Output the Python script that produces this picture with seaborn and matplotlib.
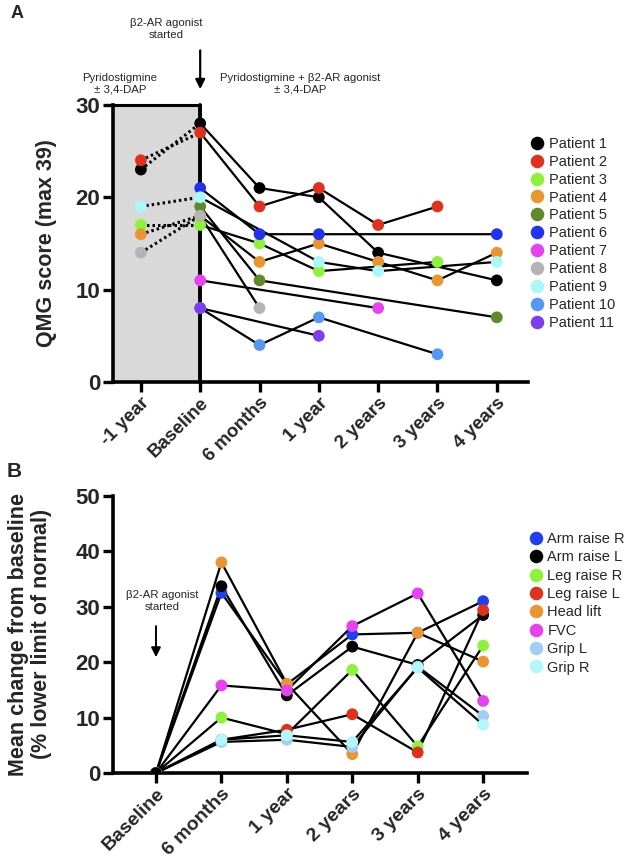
import numpy as np
import pandas as pd
import matplotlib
matplotlib.use("Agg")
import matplotlib.pyplot as plt
import seaborn as sns

nan = np.nan

# ---------------- Panel A data ----------------
A_times = ['-1 year', 'Baseline', '6 months', '1 year', '2 years', '3 years', '4 years']
patient_1 = [23, 28, 21, 20, 14, nan, 11]
patient_2 = [24, 27, 19, 21, 17, 19, nan]
patient_3 = [17, 17, 15, 12, nan, 13, nan]
patient_4 = [16, 18, 13, 15, 13, 11, 14]
patient_5 = [nan, 19, 11, nan, nan, nan, 7]
patient_6 = [nan, 21, 16, 16, nan, nan, 16]
patient_7 = [nan, 11, nan, nan, 8, nan, nan]
patient_8 = [14, 18, 8, nan, nan, nan, nan]
patient_9 = [19, 20, nan, 13, 12, nan, 13]
patient_10 = [nan, 8, 4, 7, nan, 3, nan]
patient_11 = [nan, 8, nan, 5, nan, nan, nan]
A_names = ['Patient %d' % i for i in range(1, 12)]
A_series = [patient_1, patient_2, patient_3, patient_4, patient_5, patient_6,
            patient_7, patient_8, patient_9, patient_10, patient_11]
A_colors = ['#000000', '#e0301e', '#8ef23a', '#eb9530', '#5f8a2a', '#2233ee',
            '#e642f0', '#b4b4b4', '#aaf8fa', '#5597f5', '#7b3ff0']

# ---------------- Panel B data ----------------
B_times = ['Baseline', '6 months', '1 year', '2 years', '3 years', '4 years']
arm_raise_r = [0, 32.5, 16.0, 25.0, 25.3, 31.0]
arm_raise_l = [0, 33.7, 14.0, 22.8, 19.5, 28.5]
leg_raise_r = [0, 10.0, 7.0, 18.6, 4.8, 23.0]
leg_raise_l = [0, 6.0, 7.8, 10.6, 3.7, 29.4]
head_lift = [0, 38.0, 16.1, 3.4, 25.3, 20.1]
fvc = [0, 15.8, 14.9, 26.5, 32.4, 13.0]
grip_l = [0, 5.6, 6.0, 4.7, 19.2, 10.3]
grip_r = [0, 6.0, 6.8, 5.6, 19.0, 8.7]
B_names = ['Arm raise R', 'Arm raise L', 'Leg raise R', 'Leg raise L',
           'Head lift', 'FVC', 'Grip L', 'Grip R']
B_series = [arm_raise_r, arm_raise_l, leg_raise_r, leg_raise_l,
            head_lift, fvc, grip_l, grip_r]
B_colors = ['#2040f0', '#000000', '#8ef23a', '#e0301e', '#eb9530', '#e642f0',
            '#a3cdf5', '#b2f8fb']

sns.set_theme(style='ticks')
plt.rcParams['font.family'] = ['Liberation Sans', 'DejaVu Sans']
ann_font = ['Liberation Sans', 'DejaVu Sans']

# long data frames
rows = []
for name, vals in zip(A_names, A_series):
    for t, v in enumerate(vals):
        if not np.isnan(v):
            rows.append((name, t, v))
dfA = pd.DataFrame(rows, columns=['patient', 't', 'score'])
has_pre = dfA[dfA.t == 0].patient.unique()
solidA = dfA[dfA.t >= 1]
dottedA = dfA[(dfA.t <= 1) & dfA.patient.isin(has_pre)]

rows = []
for name, vals in zip(B_names, B_series):
    for t, v in enumerate(vals):
        rows.append((name, t, v))
dfB = pd.DataFrame(rows, columns=['measure', 't', 'change'])
# put Arm raise L baseline point on top
order = np.argsort([(1 if (m == 'Arm raise L' and t == 0) else 0)
                    for m, t in zip(dfB.measure, dfB.t)], kind='stable')
dfB_pts = dfB.iloc[order]

fig = plt.figure(figsize=(6.33, 8.66), dpi=100)
axA = fig.add_axes([0.1785, 0.5589, 0.656, 0.3200])
axB = fig.add_axes([0.1785, 0.1074, 0.654, 0.3200])

# ---------- Panel A ----------
axA.axvspan(-0.47, 1, color='#d9d9d9', zorder=0, lw=0)
axA.plot([-0.47, 1], [30, 30], color='black', lw=2.2, clip_on=False, zorder=1)
axA.plot([1, 1], [0, 30], color='black', lw=2.8, clip_on=False, zorder=1)

sns.lineplot(data=solidA, x='t', y='score', units='patient', estimator=None,
             color='black', lw=1.6, ax=axA, legend=False, zorder=2)
sns.lineplot(data=dottedA, x='t', y='score', units='patient', estimator=None,
             color='black', lw=2.2, ax=axA, legend=False, zorder=2,
             linestyle=(0, (0.8, 1.0)))
sns.scatterplot(data=dfA, x='t', y='score', hue='patient', hue_order=A_names,
                palette=A_colors, s=72, edgecolor='none', linewidth=0,
                ax=axA, zorder=3, legend=True)

axA.set_xlim(-0.47, 6.53)
axA.set_ylim(0, 30)
axA.set_yticks([0, 10, 20, 30])
axA.set_xticks(range(len(A_times)))
axA.set_xticklabels(A_times, rotation=45, ha='right', rotation_mode='anchor',
                    fontweight='bold', fontsize=13.5)
axA.set_xlabel('')
axA.set_ylabel('QMG score (max 39)', fontsize=15.5, fontweight='bold')
axA.yaxis.set_label_coords(-0.135, 0.5)

axA.legend(loc='upper left', bbox_to_anchor=(1.0, 0.885), frameon=False,
           fontsize=10.5, handletextpad=0.2, labelspacing=0.27,
           borderaxespad=0, borderpad=0, handlelength=1.2, markerscale=1.15)

axA.annotate('', xy=(1, 31.4), xytext=(1, 36.2),
             arrowprops=dict(arrowstyle='-|>', color='black', lw=1.6,
                             mutation_scale=14),
             annotation_clip=False)
axA.text(0.42, 38.2, 'β2-AR agonist\nstarted', ha='center', va='center',
         fontsize=8.2, family=ann_font, linespacing=1.2, clip_on=False)
axA.text(-0.35, 32.3, 'Pyridostigmine\n± 3,4-DAP', ha='center', va='center',
         fontsize=8.2, family=ann_font, linespacing=1.2, clip_on=False)
axA.text(2.68, 32.3, 'Pyridostigmine + β2-AR agonist\n± 3,4-DAP', ha='center',
         va='center', fontsize=8.2, family=ann_font, linespacing=1.2,
         clip_on=False)

# ---------- Panel B ----------
sns.lineplot(data=dfB, x='t', y='change', units='measure', estimator=None,
             color='black', lw=1.6, ax=axB, legend=False, zorder=2)
sns.scatterplot(data=dfB_pts, x='t', y='change', hue='measure', hue_order=B_names,
                palette=B_colors, s=72, edgecolor='none', linewidth=0,
                ax=axB, zorder=3, legend=True)
axB.set_xlim(-0.657, 5.67)
axB.set_ylim(0, 50)
axB.set_yticks([0, 10, 20, 30, 40, 50])
axB.set_xticks(range(len(B_times)))
axB.set_xticklabels(B_times, rotation=45, ha='right', rotation_mode='anchor',
                    fontweight='bold', fontsize=14)
axB.set_xlabel('')
axB.set_ylabel('Mean change from baseline\n(% lower limit of normal)',
               fontsize=15.5, fontweight='bold', linespacing=1.15)
axB.yaxis.set_label_coords(-0.147, 0.5)
axB.legend(loc='upper left', bbox_to_anchor=(1.0, 0.87), frameon=False,
           fontsize=10.5, handletextpad=0.2, labelspacing=0.3,
           borderaxespad=0, borderpad=0, handlelength=1.2, markerscale=1.15)
axB.annotate('', xy=(0, 20.4), xytext=(0, 27.0),
             arrowprops=dict(arrowstyle='-|>', color='black', lw=1.4,
                             mutation_scale=14),
             annotation_clip=False)
axB.text(0.09, 31.0, 'β2-AR agonist\nstarted', ha='center', va='center',
         fontsize=8.2, family=ann_font, linespacing=1.2)

for ax in (axA, axB):
    sns.despine(ax=ax)
    for s in ('left', 'bottom'):
        ax.spines[s].set_linewidth(2.6)
        ax.spines[s].set_color('black')
    ax.tick_params(axis='both', width=2.4, length=7, color='black',
                   direction='out', pad=2)
    ax.tick_params(axis='y', labelsize=16)
    for lab in ax.get_yticklabels():
        lab.set_fontweight('bold')
    ax.set_facecolor('white')
    ax.patch.set_alpha(0)

fig.text(0.016, 0.984, 'A', fontsize=13, fontweight='bold', va='center')
fig.text(0.010, 0.455, 'B', fontsize=15, fontweight='bold', va='center')

fig.savefig('out.png', dpi=100, facecolor='white')
